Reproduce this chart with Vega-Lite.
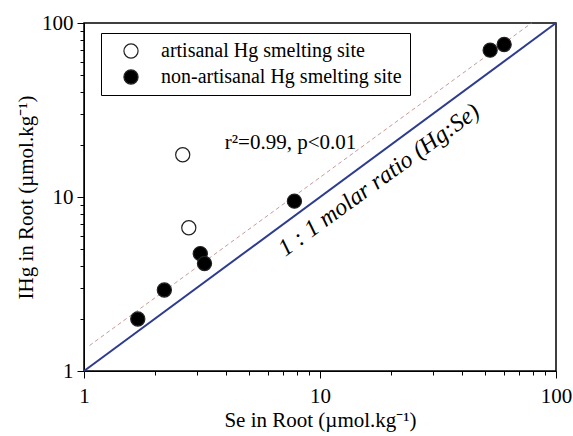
{
  "$schema": "https://vega.github.io/schema/vega-lite/v6.json",
  "width": 472,
  "height": 348,
  "autosize": {"type": "none"},
  "padding": {"left": 84, "top": 23, "right": 17, "bottom": 65},
  "background": "white",
  "config": {"view": {"stroke": "black", "strokeWidth": 1.5}, "font": "Liberation Serif"},
  "datasets": {
    "points": [
      {"se": 2.62, "ihg": 17.5, "site": "artisanal Hg smelting site"},
      {"se": 2.78, "ihg": 6.66, "site": "artisanal Hg smelting site"},
      {"se": 1.69, "ihg": 1.99, "site": "non-artisanal Hg smelting site"},
      {"se": 2.19, "ihg": 2.92, "site": "non-artisanal Hg smelting site"},
      {"se": 3.11, "ihg": 4.73, "site": "non-artisanal Hg smelting site"},
      {"se": 3.24, "ihg": 4.15, "site": "non-artisanal Hg smelting site"},
      {"se": 7.79, "ihg": 9.46, "site": "non-artisanal Hg smelting site"},
      {"se": 52.6, "ihg": 69.8, "site": "non-artisanal Hg smelting site"},
      {"se": 60.3, "ihg": 75.2, "site": "non-artisanal Hg smelting site"}
    ],
    "oneone": [{"se": 1, "ihg": 1}, {"se": 100, "ihg": 100}],
    "fit": [{"se": 1.055, "ihg": 1.40}, {"se": 78.8, "ihg": 100}],
    "stat": [{"se": 7.5, "ihg": 20.4, "text": "r²=0.99, p<0.01"}],
    "ratio": [{"se": 17.8, "ihg": 12.5, "text": "1 : 1 molar ratio (Hg:Se)"}]
  },
  "encoding": {
    "x": {
      "field": "se", "type": "quantitative",
      "scale": {"type": "log", "domain": [1, 100], "nice": false},
      "axis": {
        "title": "Se in Root (µmol.kg⁻¹)",
        "values": [1, 2, 3, 4, 5, 6, 7, 8, 9, 10, 20, 30, 40, 50, 60, 70, 80, 90, 100],
        "format": "d",
        "labelExpr": "(datum.value==1||datum.value==10||datum.value==100) ? datum.label : ''",
        "tickSize": {"condition": {"test": "datum.value==1||datum.value==10||datum.value==100", "value": 7}, "value": 4},
        "grid": false, "labelOverlap": false, "labelFlush": false,
        "domainColor": "black", "tickColor": "black", "labelColor": "black", "titleColor": "black",
        "labelFont": "Liberation Serif", "labelFontSize": 21,
        "titleFont": "Liberation Serif", "titleFontSize": 21, "titleFontWeight": "normal",
        "labelPadding": 7, "titlePadding": 3
      }
    },
    "y": {
      "field": "ihg", "type": "quantitative",
      "scale": {"type": "log", "domain": [1, 100], "nice": false},
      "axis": {
        "title": "IHg in Root (µmol.kg⁻¹)",
        "values": [1, 2, 3, 4, 5, 6, 7, 8, 9, 10, 20, 30, 40, 50, 60, 70, 80, 90, 100],
        "format": "d",
        "labelExpr": "(datum.value==1||datum.value==10||datum.value==100) ? datum.label : ''",
        "tickSize": {"condition": {"test": "datum.value==1||datum.value==10||datum.value==100", "value": 7}, "value": 4},
        "grid": false, "labelOverlap": false, "labelFlush": false,
        "domainColor": "black", "tickColor": "black", "labelColor": "black", "titleColor": "black",
        "labelFont": "Liberation Serif", "labelFontSize": 21,
        "titleFont": "Liberation Serif", "titleFontSize": 21, "titleFontWeight": "normal",
        "labelPadding": 4, "titlePadding": 5
      }
    }
  },
  "layer": [
    {
      "data": {"name": "fit"},
      "mark": {"type": "line", "color": "#c99a9a", "strokeWidth": 1, "strokeDash": [4, 3]},
      "encoding": {}
    },
    {
      "data": {"name": "oneone"},
      "mark": {"type": "line", "color": "#2e3c8f", "strokeWidth": 2},
      "encoding": {}
    },
    {
      "data": {"name": "stat"},
      "mark": {"type": "text", "font": "Liberation Serif", "fontSize": 21, "color": "black", "align": "center", "baseline": "middle"},
      "encoding": {"text": {"field": "text"}}
    },
    {
      "data": {"name": "ratio"},
      "mark": {"type": "text", "font": "Liberation Serif", "fontSize": 24, "fontStyle": "italic", "color": "black", "align": "center", "baseline": "middle", "angle": -36},
      "encoding": {"text": {"field": "text"}}
    },
    {
      "data": {"name": "points"},
      "mark": {"type": "point", "shape": "circle", "filled": true, "size": 200, "stroke": "#222222", "strokeWidth": 1.2, "opacity": 1},
      "encoding": {
        "fill": {
          "field": "site", "type": "nominal",
          "scale": {"domain": ["artisanal Hg smelting site", "non-artisanal Hg smelting site"], "range": ["white", "black"]},
          "legend": {
            "orient": "none", "legendX": 17, "legendY": 10, "title": null,
            "strokeColor": "black", "fillColor": "white", "padding": 8,
            "symbolOffset": 12, "labelOffset": 20, "labelFontSize": 20, "labelFont": "Liberation Serif",
            "labelColor": "black", "labelLimit": 400,
            "symbolSize": 200, "symbolType": "circle", "symbolStrokeColor": "#222222", "symbolStrokeWidth": 1.2,
            "rowPadding": 6
          }
        }
      }
    }
  ]
}
